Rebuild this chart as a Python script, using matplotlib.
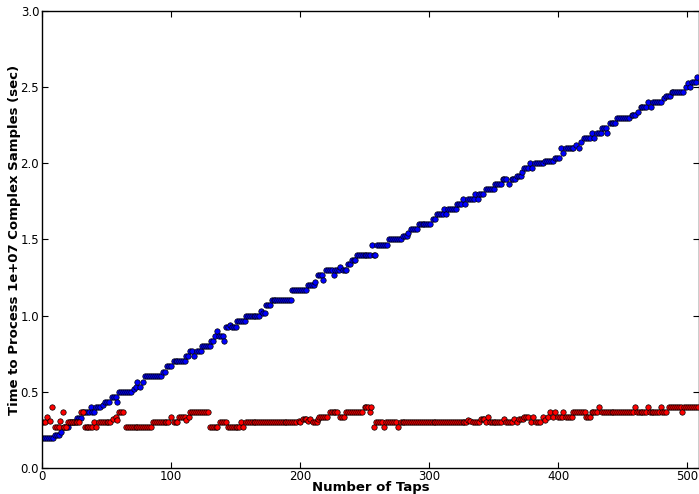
import numpy as np
import matplotlib
matplotlib.use("Agg")
import matplotlib.pyplot as plt

# (first tap, last tap, seconds) runs
blue_runs = [
    (1, 9, 0.2), (10, 14, 0.217), (15, 16, 0.234), (17, 21, 0.267), (22, 26, 0.3),
    (27, 31, 0.325), (32, 37, 0.367), (38, 38, 0.4), (39, 41, 0.367), (42, 46, 0.4),
    (47, 48, 0.415), (49, 53, 0.435), (54, 57, 0.467), (58, 59, 0.435), (60, 70, 0.5),
    (71, 72, 0.52), (73, 73, 0.535), (74, 75, 0.567), (76, 77, 0.535), (78, 79, 0.567),
    (80, 93, 0.603), (94, 96, 0.63), (97, 101, 0.667), (102, 111, 0.703), (112, 114, 0.733),
    (115, 117, 0.767), (118, 119, 0.733), (120, 123, 0.767), (124, 130, 0.803), (131, 133, 0.834),
    (134, 135, 0.867), (136, 136, 0.9), (137, 140, 0.867), (141, 142, 0.834), (143, 145, 0.928),
    (146, 146, 0.94), (147, 150, 0.928), (151, 157, 0.967), (158, 169, 1.0), (170, 170, 1.03),
    (171, 173, 1.02), (174, 177, 1.067), (178, 193, 1.103), (194, 205, 1.167), (206, 211, 1.2),
    (212, 213, 1.22), (214, 217, 1.267), (218, 219, 1.235), (220, 225, 1.3), (226, 226, 1.267),
    (227, 230, 1.3), (231, 232, 1.32), (233, 236, 1.3), (237, 239, 1.34), (240, 243, 1.367),
    (244, 255, 1.4), (256, 256, 1.467), (257, 259, 1.4), (260, 268, 1.467), (269, 279, 1.5),
    (280, 283, 1.525), (284, 285, 1.54), (286, 291, 1.567), (292, 302, 1.603), (303, 305, 1.635),
    (306, 311, 1.667), (312, 312, 1.7), (313, 314, 1.667), (315, 321, 1.7), (322, 325, 1.733),
    (326, 327, 1.767), (328, 329, 1.733), (330, 335, 1.767), (336, 337, 1.8), (338, 338, 1.767),
    (339, 343, 1.8), (344, 350, 1.83), (351, 356, 1.867), (357, 361, 1.9), (362, 363, 1.867),
    (364, 367, 1.9), (368, 371, 1.915), (372, 373, 1.94), (374, 377, 1.967), (378, 379, 2.0),
    (380, 381, 1.967), (382, 389, 2.0), (390, 397, 2.017), (398, 401, 2.035), (402, 403, 2.1),
    (404, 405, 2.067), (406, 413, 2.1), (414, 415, 2.12), (416, 417, 2.1), (418, 419, 2.14),
    (420, 425, 2.167), (426, 427, 2.2), (428, 429, 2.167), (430, 433, 2.2), (434, 437, 2.233),
    (438, 439, 2.2), (440, 445, 2.267), (446, 456, 2.3), (457, 461, 2.317), (462, 463, 2.34),
    (464, 469, 2.367), (470, 471, 2.4), (472, 473, 2.367), (474, 481, 2.4), (482, 483, 2.43),
    (484, 487, 2.44), (488, 498, 2.467), (499, 500, 2.5), (501, 501, 2.525), (502, 503, 2.5),
    (504, 507, 2.533), (508, 509, 2.567),
]

red_runs = [
    (1, 3, 0.3), (4, 5, 0.333), (6, 7, 0.31), (8, 9, 0.4), (10, 13, 0.267), (14, 15, 0.31),
    (16, 16, 0.367), (17, 19, 0.267), (20, 29, 0.3), (30, 32, 0.367), (33, 39, 0.267),
    (40, 41, 0.3), (42, 43, 0.267), (44, 54, 0.3), (55, 56, 0.32), (57, 57, 0.333),
    (58, 59, 0.317), (60, 64, 0.367), (65, 85, 0.267), (86, 99, 0.3), (100, 101, 0.333),
    (102, 105, 0.3), (106, 111, 0.333), (112, 113, 0.317), (114, 114, 0.333), (115, 129, 0.367),
    (130, 137, 0.267), (138, 143, 0.3), (144, 153, 0.267), (154, 155, 0.3), (156, 157, 0.267),
    (158, 198, 0.3), (199, 199, 0.31), (200, 201, 0.3), (202, 205, 0.32), (206, 207, 0.31),
    (208, 209, 0.32), (210, 213, 0.3), (214, 214, 0.32), (215, 222, 0.333), (223, 230, 0.367),
    (231, 235, 0.333), (236, 249, 0.367), (250, 253, 0.4), (254, 254, 0.367), (255, 256, 0.4),
    (257, 258, 0.267), (259, 264, 0.3), (265, 266, 0.267), (267, 275, 0.3), (276, 277, 0.267),
    (278, 329, 0.3), (330, 331, 0.315), (332, 333, 0.31), (334, 339, 0.3), (340, 343, 0.32),
    (344, 345, 0.3), (346, 346, 0.333), (347, 357, 0.3), (358, 359, 0.32), (360, 365, 0.3),
    (366, 367, 0.32), (368, 369, 0.3), (370, 373, 0.32), (374, 378, 0.333), (379, 380, 0.3),
    (381, 382, 0.333), (383, 387, 0.3), (388, 389, 0.333), (390, 391, 0.315), (392, 393, 0.333),
    (394, 395, 0.367), (396, 397, 0.333), (398, 399, 0.367), (400, 403, 0.333), (404, 405, 0.367),
    (406, 411, 0.333), (412, 421, 0.367), (422, 425, 0.333), (426, 431, 0.367), (432, 433, 0.4),
    (434, 459, 0.367), (460, 460, 0.4), (461, 469, 0.367), (470, 470, 0.4), (471, 479, 0.367),
    (480, 480, 0.4), (481, 485, 0.367), (486, 495, 0.4), (496, 497, 0.367), (498, 509, 0.4),
]

x_ticks = [0, 100, 200, 300, 400, 500]
y_ticks = [0.0, 0.5, 1.0, 1.5, 2.0, 2.5, 3.0]


def expand(runs):
    xs, ys = [], []
    for a, b, v in runs:
        for t in np.arange(a, b + 0.01, 1.5):
            xs.append(t)
            ys.append(v)
    return np.array(xs), np.array(ys)


bx, by = expand(blue_runs)
rx, ry = expand(red_runs)

fig = plt.figure(figsize=(6.99, 4.94), dpi=100)
ax = fig.add_axes([42 / 699, 26 / 494, 657 / 699, 457 / 494])

ax.plot(bx, by, linestyle="none", marker="o", markersize=3.9, markerfacecolor="#0000ff",
        markeredgecolor="black", markeredgewidth=0.5)
ax.plot(rx, ry, linestyle="none", marker="o", markersize=3.9, markerfacecolor="#ff0000",
        markeredgecolor="black", markeredgewidth=0.5)

ax.set_xlim(0, 509.3)
ax.set_ylim(0, 3.0)
ax.set_xticks(x_ticks)
ax.set_yticks(y_ticks)
ax.set_yticklabels([f"{v:.1f}" for v in y_ticks])
ax.tick_params(direction="in", top=True, right=True, length=4, width=0.8,
               labelsize=8.5)
ax.tick_params(axis="x", pad=1.5)
ax.tick_params(axis="y", pad=2)
for s in ax.spines.values():
    s.set_linewidth(1.0)

ax.set_xlabel("Number of Taps", fontsize=9.5, fontweight="bold", labelpad=-1.2)
ax.set_ylabel("Time to Process 1e+07 Complex Samples (sec)", fontsize=9.5,
              fontweight="bold", labelpad=0)

fig.savefig("out.png", dpi=100)
